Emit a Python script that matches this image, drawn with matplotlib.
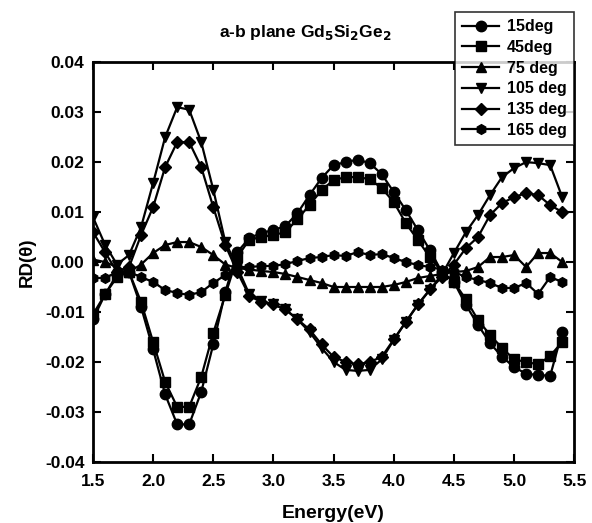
import numpy as np
import matplotlib
matplotlib.use('Agg')
import matplotlib.pyplot as plt

plt.rcParams['font.family'] = ['Liberation Sans', 'DejaVu Sans']
plt.rcParams['font.weight'] = 'bold'
plt.rcParams['mathtext.default'] = 'bf'

# ============================================
# DATA
# ============================================
energy = np.round(np.arange(1.5, 5.41, 0.1), 1)

rd_15 = [-0.0115, -0.0065, -0.0025, -0.0020, -0.0090, -0.0175, -0.0265, -0.0325, -0.0325, -0.0260,
         -0.0165, -0.0060, 0.0020, 0.0048, 0.0058, 0.0064, 0.0072, 0.0098, 0.0134, 0.0168,
         0.0194, 0.0200, 0.0205, 0.0198, 0.0176, 0.0140, 0.0104, 0.0064, 0.0024, -0.0020,
         -0.0040, -0.0086, -0.0126, -0.0162, -0.0190, -0.0210, -0.0224, -0.0226, -0.0228, -0.0140]

rd_45 = [-0.0105, -0.0065, -0.0030, -0.0020, -0.0080, -0.0160, -0.0240, -0.0290, -0.0290, -0.0230,
         -0.0142, -0.0066, 0.0010, 0.0045, 0.0050, 0.0054, 0.0060, 0.0086, 0.0114, 0.0144,
         0.0164, 0.0170, 0.0170, 0.0166, 0.0148, 0.0120, 0.0078, 0.0044, 0.0010, -0.0020,
         -0.0040, -0.0075, -0.0116, -0.0146, -0.0172, -0.0195, -0.0200, -0.0205, -0.0188, -0.0160]

rd_75 = [0.0005, 0.0000, -0.0010, -0.0020, -0.0005, 0.0018, 0.0034, 0.0040, 0.0040, 0.0030,
         0.0014, -0.0005, -0.0012, -0.0015, -0.0018, -0.0020, -0.0024, -0.0030, -0.0036, -0.0042,
         -0.0050, -0.0050, -0.0050, -0.0050, -0.0050, -0.0046, -0.0040, -0.0032, -0.0028, -0.0024,
         -0.0020, -0.0018, -0.0010, 0.0010, 0.0010, 0.0014, -0.0010, 0.0018, 0.0018, 0.0000]

rd_105 = [0.0090, 0.0035, -0.0005, 0.0014, 0.0070, 0.0158, 0.0250, 0.0310, 0.0305, 0.0240,
          0.0145, 0.0040, -0.0010, -0.0065, -0.0078, -0.0085, -0.0095, -0.0115, -0.0140, -0.0172,
          -0.0200, -0.0216, -0.0218, -0.0216, -0.0195, -0.0156, -0.0120, -0.0086, -0.0056, -0.0025,
          0.0018, 0.0060, 0.0094, 0.0134, 0.0170, 0.0188, 0.0200, 0.0198, 0.0194, 0.0130]

rd_135 = [0.0060, 0.0020, -0.0020, -0.0010, 0.0054, 0.0110, 0.0190, 0.0240, 0.0240, 0.0190,
          0.0110, 0.0034, -0.0020, -0.0068, -0.0080, -0.0085, -0.0095, -0.0115, -0.0135, -0.0165,
          -0.0190, -0.0200, -0.0205, -0.0200, -0.0190, -0.0155, -0.0120, -0.0085, -0.0055, -0.0030,
          -0.0005, 0.0028, 0.0050, 0.0094, 0.0118, 0.0130, 0.0138, 0.0134, 0.0114, 0.0100]

rd_165 = [-0.0032, -0.0032, -0.0020, -0.0020, -0.0030, -0.0040, -0.0056, -0.0062, -0.0066, -0.0060,
          -0.0042, -0.0026, -0.0010, -0.0010, -0.0008, -0.0008, -0.0004, 0.0002, 0.0008, 0.0010,
          0.0014, 0.0012, 0.0020, 0.0014, 0.0016, 0.0008, 0.0000, -0.0006, -0.0010, -0.0015,
          -0.0020, -0.0030, -0.0036, -0.0042, -0.0052, -0.0052, -0.0042, -0.0064, -0.0030, -0.0040]

series = [
    ('15deg', rd_15, 'o', 7.5),
    ('45deg', rd_45, 's', 7),
    ('75 deg', rd_75, '^', 7.5),
    ('105 deg', rd_105, 'v', 7.5),
    ('135 deg', rd_135, 'D', 6.5),
    ('165 deg', rd_165, 'h', 7),
]

# ============================================
# PLOT
# ============================================
fig = plt.figure(figsize=(5.92, 5.23), dpi=100)
ax = fig.add_axes([0.157, 0.117, 0.813, 0.764])

for label, vals, marker, ms in series:
    ax.plot(energy, vals, color='black', lw=1.6, marker=marker, ms=ms,
            mfc='black', mec='black', label=label)

ax.set_xlim(1.5, 5.5)
ax.set_ylim(-0.04, 0.04)
ax.set_xticks(np.arange(1.5, 5.51, 0.5))
ax.set_yticks(np.arange(-0.04, 0.041, 0.01))
ax.xaxis.set_major_formatter(matplotlib.ticker.FormatStrFormatter('%.1f'))
ax.yaxis.set_major_formatter(matplotlib.ticker.FormatStrFormatter('%.2f'))
ax.tick_params(direction='in', length=6, width=1.5, top=True, right=True,
               labelsize=12.5)
ax.tick_params(axis='x', pad=9)
ax.tick_params(axis='y', pad=6)
for lab in ax.get_xticklabels() + ax.get_yticklabels():
    lab.set_fontweight('bold')
for sp in ax.spines.values():
    sp.set_linewidth(2)

ax.set_xlabel('Energy(eV)', fontsize=14, fontweight='bold', labelpad=11)
ax.set_ylabel('RD(θ)', fontsize=13.5, fontweight='bold', labelpad=7)

fig.text(0.515, 0.938, 'a-b plane Gd$_5$Si$_2$Ge$_2$', ha='center', va='center',
         fontsize=12.5, fontweight='bold')

leg = fig.legend(loc='upper right', bbox_to_anchor=(0.970, 0.977), fontsize=11.5,
                 frameon=True, fancybox=False, edgecolor='black', handlelength=2.3,
                 borderpad=0.45, labelspacing=0.36, handletextpad=0.5, borderaxespad=0)
leg.get_frame().set_linewidth(1.2)
for t in leg.get_texts():
    t.set_fontweight('bold')

plt.savefig('out.png', dpi=100)
